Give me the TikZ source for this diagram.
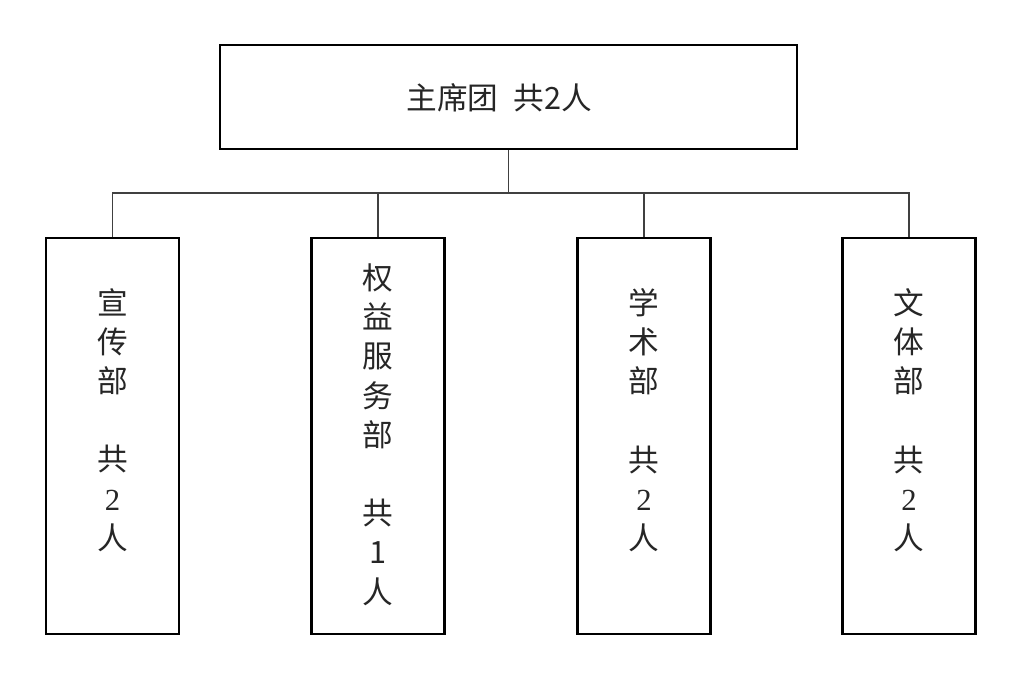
\documentclass[tikz,border=0pt]{standalone}
\usepackage{fontspec}
\setmainfont{Noto Sans CJK SC}
\newfontfamily\digitfont{Liberation Serif}
\begin{document}
\begin{tikzpicture}[x=0.75pt,y=-0.75pt,
  boxa/.style={draw=black, line width=1.6pt, inner sep=0pt},
  lbl/.style={text=black!85, align=center, inner sep=0pt, font=\fontsize{23pt}{29.4pt}\selectfont},
  conn/.style={draw=black!75, line width=0.8pt}]
\useasboundingbox (0,0) rectangle (1024,673);
\node[boxa, minimum width=432.75pt, minimum height=78pt] (top) at (508.5,97) {};
\node[lbl] (toptext) at (499.5,98) {主席团\hspace{0.5em}共2人};
\foreach \n/\x in {c1/112.5, c2/378, c3/644, c4/909}{
  \node[boxa, minimum width=99.75pt, minimum height=297pt] (\n) at (\x,436) {};
}
\node[lbl] (t1) at (112.5,420) {宣\\传\\部\\[29.4pt]共\\{\digitfont 2}\\人};
\node[lbl] (t2) at (378,434.5) {权\\益\\服\\务\\部\\[29.4pt]共\\1\\人};
\node[lbl] (t3) at (644,420) {学\\术\\部\\[29.4pt]共\\{\digitfont 2}\\人};
\node[lbl] (t4) at (909,420) {文\\体\\部\\[29.4pt]共\\{\digitfont 2}\\人};
\coordinate (j) at (508.5,193);
\draw[conn] (top.south) -- (j);
\draw[conn] (c1.north) |- (j) -| (c4.north);
\draw[conn] (c2.north) -- (c2.north |- j);
\draw[conn] (c3.north) -- (c3.north |- j);
\end{tikzpicture}
\end{document}
